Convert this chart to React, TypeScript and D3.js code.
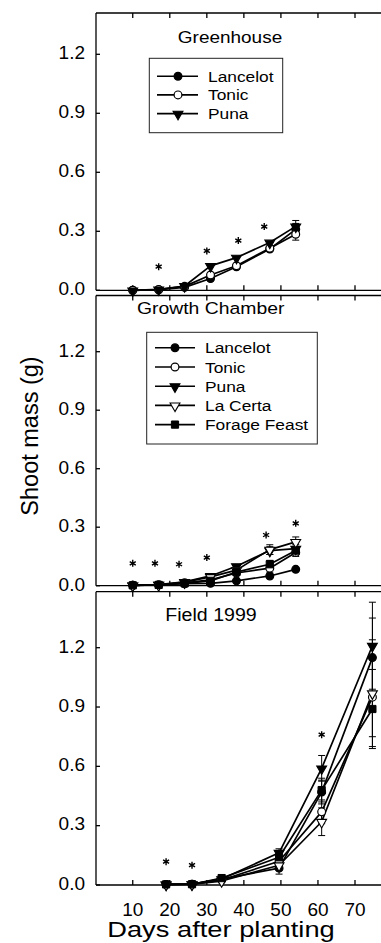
import React, { useEffect, useRef } from "react";
import * as d3 from "d3";

// ---------- data ----------
const xTickValues = [10, 20, 30, 40, 50, 60, 70];
const yTickValues = [0.0, 0.3, 0.6, 0.9, 1.2];

const ghDays = [10, 17, 24, 31, 38, 47, 54];
const ghLancelot = [0.0, 0.003, 0.015, 0.06, 0.12, 0.21, 0.31];
const ghTonic = [0.0, 0.004, 0.02, 0.078, 0.125, 0.214, 0.285];
const ghPuna = [0.0, 0.005, 0.022, 0.124, 0.166, 0.243, 0.325];
const ghLancelotErr = [0, 0, 0, 0.005, 0.01, 0.01, 0.03];
const ghTonicErr = [0, 0, 0, 0.005, 0.01, 0.01, 0.03];
const ghPunaErr = [0, 0, 0, 0.005, 0.01, 0.01, 0.03];
const ghStarDays = [17, 30, 38.5, 45.5];
const ghStarVals = [0.12, 0.2, 0.253, 0.324];

const gcDays = [10, 17, 24, 31, 38, 47, 54];
const gcLancelot = [0.002, 0.004, 0.01, 0.012, 0.025, 0.05, 0.084];
const gcTonic = [0.002, 0.005, 0.015, 0.03, 0.065, 0.09, 0.17];
const gcPuna = [0.002, 0.006, 0.02, 0.05, 0.1, 0.18, 0.19];
const gcLaCerta = [0.002, 0.005, 0.018, 0.045, 0.08, 0.185, 0.225];
const gcForage = [0.002, 0.004, 0.012, 0.025, 0.07, 0.11, 0.18];
const gcLancelotErr = [0, 0, 0, 0, 0.005, 0.008, 0.01];
const gcTonicErr = [0, 0, 0, 0.005, 0.01, 0.02, 0.02];
const gcPunaErr = [0, 0, 0, 0.005, 0.01, 0.02, 0.02];
const gcLaCertaErr = [0, 0, 0, 0.005, 0.01, 0.025, 0.025];
const gcForageErr = [0, 0, 0, 0.005, 0.01, 0.02, 0.02];
const gcStarDays = [10, 16, 22.5, 30, 46, 54];
const gcStarVals = [0.115, 0.115, 0.11, 0.144, 0.26, 0.32];

const fdDays = [19, 26, 34, 49.5, 61, 74.7];
const fdLancelot = [0.003, 0.004, 0.03, 0.085, 0.47, 1.15];
const fdTonic = [0.003, 0.004, 0.025, 0.12, 0.37, 0.95];
const fdPuna = [0.003, 0.004, 0.03, 0.163, 0.59, 1.21];
const fdLaCerta = [0.003, 0.004, 0.02, 0.1, 0.32, 0.97];
const fdForage = [0.003, 0.004, 0.035, 0.14, 0.48, 0.89];
const fdLancelotErr = [0, 0, 0.005, 0.03, 0.06, 0.2];
const fdTonicErr = [0, 0, 0.005, 0.02, 0.06, 0.2];
const fdPunaErr = [0, 0, 0.005, 0.02, 0.065, 0.22];
const fdLaCertaErr = [0, 0, 0.005, 0.02, 0.07, 0.27];
const fdForageErr = [0, 0, 0.005, 0.02, 0.06, 0.2];
const fdStarDays = [19, 26, 61];
const fdStarVals = [0.118, 0.1, 0.76];

type Marker = "filledCircle" | "openCircle" | "filledDown" | "openDown" | "filledSquare";
const markerOf: Record<string, Marker> = {
  Lancelot: "filledCircle",
  Tonic: "openCircle",
  Puna: "filledDown",
  "La Certa": "openDown",
  "Forage Feast": "filledSquare",
};

const FONT = "'Liberation Sans', Arial, Helvetica, sans-serif";

export default function App() {
  const ref = useRef<SVGSVGElement>(null);

  useEffect(() => {
    const svg = d3.select(ref.current);
    svg.selectAll("*").remove();

    const x = d3.scaleLinear().domain([0, 70]).range([95.7, 355]);
    const xRight = 381;
    const axisX = 96;

    const panels = [
      {
        title: "Greenhouse", titleX: 230, titleY: 42.7, titleFs: 16.5, titleSx: 1.15,
        top: 13, y: d3.scaleLinear().domain([0, 1.2]).range([290.3, 54.3]),
        days: ghDays,
        series: [
          { name: "Lancelot", v: ghLancelot, e: ghLancelotErr },
          { name: "Tonic", v: ghTonic, e: ghTonicErr },
          { name: "Puna", v: ghPuna, e: ghPunaErr },
        ],
        starDays: ghStarDays, starVals: ghStarVals,
        legend: { x0: 149.3, y0: 58.3, x1: 282.7, y1: 132.7, base: 81.7, dy: 18.7, lx0: 157, lx1: 198, mx: 178, tx: 208 },
      },
      {
        title: "Growth Chamber", titleX: 210.7, titleY: 314, titleFs: 17, titleSx: 1.14,
        top: 295.5, y: d3.scaleLinear().domain([0, 1.2]).range([585.7, 351.7]),
        days: gcDays,
        series: [
          { name: "Lancelot", v: gcLancelot, e: gcLancelotErr },
          { name: "Tonic", v: gcTonic, e: gcTonicErr },
          { name: "Puna", v: gcPuna, e: gcPunaErr },
          { name: "La Certa", v: gcLaCerta, e: gcLaCertaErr },
          { name: "Forage Feast", v: gcForage, e: gcForageErr },
        ],
        starDays: gcStarDays, starVals: gcStarVals,
        legend: { x0: 146.7, y0: 332.3, x1: 317.3, y1: 444, base: 353.3, dy: 19.2, lx0: 155, lx1: 195, mx: 175, tx: 205 },
      },
      {
        title: "Field 1999", titleX: 211, titleY: 620.5, titleFs: 17.5, titleSx: 1.12,
        top: 591.7, y: d3.scaleLinear().domain([0, 1.2]).range([885, 647.7]),
        days: fdDays,
        series: [
          { name: "Lancelot", v: fdLancelot, e: fdLancelotErr },
          { name: "Tonic", v: fdTonic, e: fdTonicErr },
          { name: "Puna", v: fdPuna, e: fdPunaErr },
          { name: "La Certa", v: fdLaCerta, e: fdLaCertaErr },
          { name: "Forage Feast", v: fdForage, e: fdForageErr },
        ],
        starDays: fdStarDays, starVals: fdStarVals,
        legend: null as any,
      },
    ];

    const drawMarker = (g: any, m: Marker, cx: number, cy: number) => {
      const fill = m.startsWith("filled") ? "#000" : "#fff";
      if (m === "filledCircle" || m === "openCircle") {
        g.append("circle").attr("cx", cx).attr("cy", cy).attr("r", 3.9)
          .attr("fill", fill).attr("stroke", "#000").attr("stroke-width", 1.2);
      } else if (m === "filledDown" || m === "openDown") {
        g.append("path").attr("d", d3.symbol(d3.symbolTriangle, 42)())
          .attr("transform", `translate(${cx},${cy + 0.5}) rotate(180)`)
          .attr("fill", fill).attr("stroke", "#000").attr("stroke-width", 1.1);
      } else {
        g.append("path").attr("d", d3.symbol(d3.symbolSquare, 52)())
          .attr("transform", `translate(${cx},${cy})`)
          .attr("fill", fill).attr("stroke", "#000").attr("stroke-width", 1);
      }
    };

    const txt = (g: any, tx: number, ty: number, s: string, fs: number, anchor: string, sx = 1) =>
      g.append("text")
        .attr("transform", `translate(${tx},${ty}) scale(${sx},1)`)
        .attr("text-anchor", anchor)
        .attr("font-family", FONT)
        .attr("font-size", fs)
        .attr("fill", "#000")
        .text(s);

    panels.forEach((p, pi) => {
      const g = svg.append("g");
      const y = p.y;
      const y0 = y(0);

      // frame lines
      g.append("line").attr("x1", axisX).attr("x2", axisX).attr("y1", p.top).attr("y2", y0)
        .attr("stroke", "#000").attr("stroke-width", 1.3);
      g.append("line").attr("x1", axisX).attr("x2", xRight).attr("y1", p.top).attr("y2", p.top)
        .attr("stroke", "#000").attr("stroke-width", 1.3);
      g.append("line").attr("x1", axisX).attr("x2", xRight).attr("y1", y0).attr("y2", y0)
        .attr("stroke", "#000").attr("stroke-width", 1.3);

      // x ticks (inward on top and bottom)
      xTickValues.forEach((t) => {
        g.append("line").attr("x1", x(t)).attr("x2", x(t)).attr("y1", p.top).attr("y2", p.top + 5)
          .attr("stroke", "#000").attr("stroke-width", 1.3);
        g.append("line").attr("x1", x(t)).attr("x2", x(t)).attr("y1", y0).attr("y2", y0 - 5)
          .attr("stroke", "#000").attr("stroke-width", 1.3);
      });

      // y ticks + labels
      yTickValues.forEach((t) => {
        g.append("line").attr("x1", axisX).attr("x2", axisX + 4).attr("y1", y(t)).attr("y2", y(t))
          .attr("stroke", "#000").attr("stroke-width", 1.3);
        txt(g, 85, y(t) + 4.8, d3.format(".1f")(t), 19, "end");
      });

      // title
      txt(g, p.titleX, p.titleY, p.title, p.titleFs, "middle", p.titleSx);

      // lines
      const line = d3.line<number>().x((_, i) => x(p.days[i])).y((d) => y(d));
      p.series.forEach((s) => {
        g.append("path").attr("d", line(s.v)).attr("fill", "none")
          .attr("stroke", "#000").attr("stroke-width", 1.7).attr("stroke-linejoin", "round");
      });
      // error bars
      p.series.forEach((s) => {
        s.v.forEach((v, i) => {
          const e = s.e[i];
          if (e < 0.015) return;
          const cx = x(p.days[i]);
          g.append("line").attr("x1", cx).attr("x2", cx).attr("y1", y(v - e)).attr("y2", y(v + e))
            .attr("stroke", "#000").attr("stroke-width", 1);
          [v - e, v + e].forEach((yy) =>
            g.append("line").attr("x1", cx - 3.5).attr("x2", cx + 3.5).attr("y1", y(yy)).attr("y2", y(yy))
              .attr("stroke", "#000").attr("stroke-width", 1)
          );
        });
      });
      // markers
      p.series.forEach((s) => {
        s.v.forEach((v, i) => drawMarker(g, markerOf[s.name], x(p.days[i]), y(v)));
      });

      // stars
      p.starDays.forEach((d, i) => {
        g.append("path").attr("d", d3.symbol(d3.symbolAsterisk, 34)())
          .attr("transform", `translate(${x(d)},${y(p.starVals[i])})`)
          .attr("fill", "none").attr("stroke", "#000").attr("stroke-width", 1.4);
      });

      // legend
      const L = p.legend;
      if (L) {
        g.append("rect").attr("x", L.x0).attr("y", L.y0).attr("width", L.x1 - L.x0).attr("height", L.y1 - L.y0)
          .attr("fill", "#fff").attr("stroke", "#222").attr("stroke-width", 1);
        p.series.forEach((s, i) => {
          const by = L.base + i * L.dy;
          const my = by - 5.5;
          g.append("line").attr("x1", L.lx0).attr("x2", L.lx1).attr("y1", my).attr("y2", my)
            .attr("stroke", "#000").attr("stroke-width", 1.6);
          drawMarker(g, markerOf[s.name], L.mx, my);
          txt(g, L.tx, by, s.name, 15.5, "start", 1.12);
        });
      }

      // x tick labels on bottom panel
      if (pi === panels.length - 1) {
        xTickValues.forEach((t) => txt(g, x(t), 915.5, String(t), 19, "middle"));
      }
    });

    // axis titles
    svg.append("text")
      .attr("transform", `translate(221,937) scale(1.27,1)`)
      .attr("text-anchor", "middle").attr("font-family", FONT).attr("font-size", 21.5).text("Days after planting");
    svg.append("text")
      .attr("transform", `translate(37.5,436) rotate(-90)`)
      .attr("text-anchor", "middle").attr("font-family", FONT).attr("font-size", 23.5).text("Shoot mass (g)");
  }, []);

  return (
    <svg
      ref={ref}
      width={381}
      height={943}
      style={{ position: "absolute", left: 0, top: 0, background: "#fff" }}
    />
  );
}
